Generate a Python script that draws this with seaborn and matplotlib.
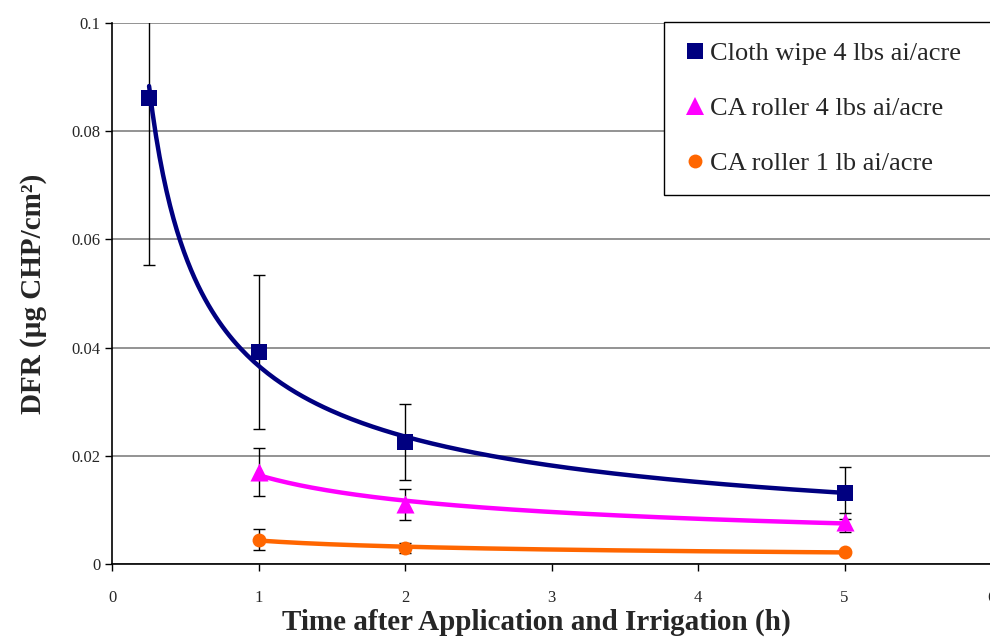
import numpy as np
import pandas as pd
import matplotlib
matplotlib.use("Agg")
import matplotlib.pyplot as plt
from matplotlib.lines import Line2D
import seaborn as sns

# Donnees
series_names = ["Cloth wipe 4 lbs ai/acre", "CA roller 4 lbs ai/acre", "CA roller 1 lb ai/acre"]
cloth_time = [0.25, 1, 2, 5]
cloth_dfr = [0.0862, 0.0392, 0.0226, 0.0131]
cloth_err = [0.031, 0.0142, 0.0070, 0.0048]
roller4_time = [1, 2, 5]
roller4_dfr = [0.0170, 0.0110, 0.0077]
roller4_err = [0.0045, 0.0029, 0.0018]
roller1_time = [1, 2, 5]
roller1_dfr = [0.0045, 0.0030, 0.0022]
roller1_err = [0.0019, 0.0009, 0.0003]

colors = ["#000080", "#FF00FF", "#FF6600"]
markers = ["s", "^", "o"]
msizes = [12, 13, 10]

sns.set_theme(style="white")
plt.rcParams['font.family'] = ['Liberation Serif', 'DejaVu Serif']

fig = plt.figure(figsize=(9.9, 6.37), dpi=100)
ax = fig.add_axes([0.1136, 0.1146, 0.8874, 0.8493])

groups = [
    (cloth_time, cloth_dfr, cloth_err),
    (roller4_time, roller4_dfr, roller4_err),
    (roller1_time, roller1_dfr, roller1_err),
]

for (t, y, e), name, c, m, ms in zip(groups, series_names, colors, markers, msizes):
    t = np.array(t, dtype=float)
    y = np.array(y, dtype=float)
    # courbe de tendance puissance (comme Excel), ajustee sur les points
    b, loga = np.polyfit(np.log(t), np.log(y), 1)
    tt = np.linspace(t.min(), t.max(), 200)
    fit = pd.DataFrame({"t": tt, "y": np.exp(loga) * tt ** b})
    sns.lineplot(data=fit, x="t", y="y", color=c, linewidth=3.2, ax=ax, zorder=3)
    ax.errorbar(t, y, yerr=e, fmt="none", ecolor="black", elinewidth=1,
                capsize=4, capthick=1, zorder=2)
    pts = pd.DataFrame({"t": t, "y": y})
    sns.scatterplot(data=pts, x="t", y="y", marker=m, color=c, s=ms ** 2,
                    edgecolor=c, linewidth=0, ax=ax, zorder=4)

ax.set_xlim(0, 6)
ax.set_ylim(0, 0.1)
ax.set_xticks(range(0, 7))
ax.set_yticks([0, 0.02, 0.04, 0.06, 0.08, 0.1])
ax.set_yticklabels(["0", "0.02", "0.04", "0.06", "0.08", "0.1"])
ax.yaxis.grid(True, color="#808080", linewidth=1.2)
ax.xaxis.grid(False)
for s in ["top", "right"]:
    ax.spines[s].set_visible(False)
for s in ["left", "bottom"]:
    ax.spines[s].set_color("black")
    ax.spines[s].set_linewidth(1.2)
ax.tick_params(axis="both", which="major", direction="out", length=5, width=1,
               color="black", labelsize=12, bottom=True, left=True)
ax.tick_params(axis="x", pad=14)

ax.set_xlabel("Time after Application and Irrigation (h)", fontsize=21,
              fontweight="bold")
ax.xaxis.set_label_coords(0.482, -0.083)
ax.set_ylabel("DFR (µg CHP/cm²)", fontsize=21, fontweight="bold", labelpad=18)

handles = [Line2D([], [], linestyle="none", marker=m, color=c, markersize=ms,
                  markeredgewidth=0)
           for c, m, ms in zip(colors, markers, msizes)]
leg = ax.legend(handles, series_names, loc="upper left",
                bbox_to_anchor=(0.628, 0.5, 0.40, 0.502), mode="expand",
                fontsize=19, frameon=True, fancybox=False, edgecolor="black",
                framealpha=1, borderpad=0.75, labelspacing=1.2, handlelength=0.8,
                handletextpad=0.2, borderaxespad=0)
leg.get_frame().set_linewidth(1)

fig.savefig("out.png", dpi=100)
